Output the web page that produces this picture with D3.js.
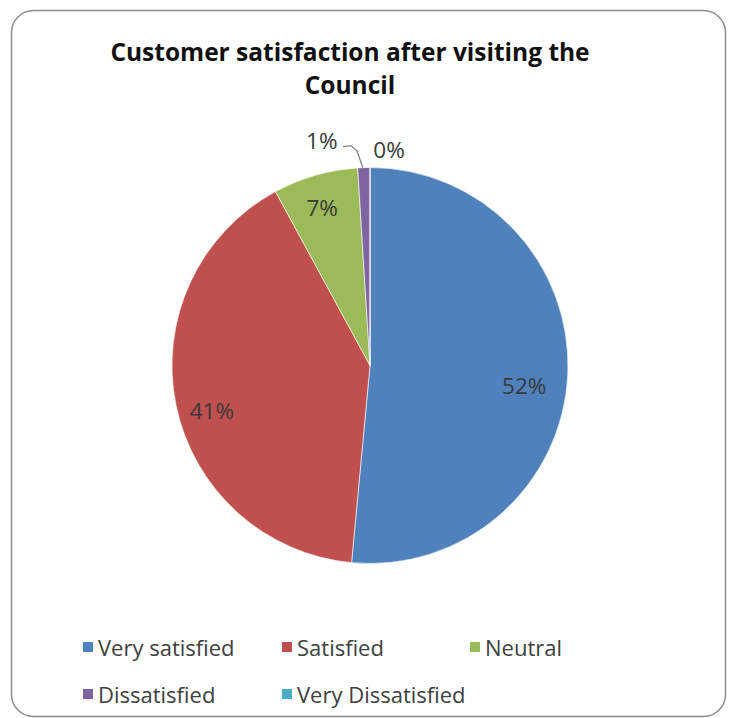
<!DOCTYPE html>
<html>
<head>
<meta charset="utf-8">
<script src="https://cdn.jsdelivr.net/npm/d3@7"></script>
<style>
  html, body { margin: 0; padding: 0; background: #fff; }
  svg { display: block; }
  text { font-family: "Open Sans", "Noto Sans", sans-serif; }
</style>
</head>
<body>
<svg id="chart" width="732" height="718"></svg>
<script>
// Survey results: share of customers (%) by satisfaction level
const categories = ["Very satisfied", "Satisfied", "Neutral", "Dissatisfied", "Very Dissatisfied"];
const shares = [52, 41, 7, 1, 0];
const colors = ["#4F81BD", "#C0504D", "#9BBB59", "#8064A2", "#4BACC6"];
const titleLines = ["Customer satisfaction after visiting the", "Council"];

// Layout
const cx = 370, cy = 365.5, R = 198;
// label placement: radius fraction (inside labels) and small nudges
const labelLayout = [
  { r: 0.79, dx: -2, dy: 13, inside: true },
  { r: 0.80, dx: -3, dy: 13, inside: true },
  { r: 0.80, dx: -4, dy: -6, inside: true },
  { outside: true, dx: -42, dy: -27 },
  { outside: true, dx: 19, dy: -18 }
];

const svg = d3.select("#chart");

// chart frame
svg.append("rect")
  .attr("x", 11.5).attr("y", 10.5)
  .attr("width", 714).attr("height", 706)
  .attr("rx", 22).attr("ry", 22)
  .attr("fill", "#fff")
  .attr("stroke", "#8c8c8c")
  .attr("stroke-width", 1.5);

// title
svg.append("text")
  .attr("x", 350).attr("y", 61)
  .attr("text-anchor", "middle")
  .attr("font-size", 24.5)
  .attr("font-weight", "bold")
  .attr("fill", "#111")
  .selectAll("tspan")
  .data(titleLines)
  .join("tspan")
  .attr("x", 350)
  .attr("dy", (d, i) => i === 0 ? 0 : 33)
  .text(d => d);

const pie = d3.pie().sort(null).value(d => d);
const arcs = pie(shares);
const arc = d3.arc().innerRadius(0).outerRadius(R);

const g = svg.append("g").attr("transform", `translate(${cx},${cy})`);

g.selectAll("path.slice")
  .data(arcs)
  .join("path")
  .attr("class", "slice")
  .attr("d", arc)
  .attr("fill", (d, i) => colors[i])
  .attr("stroke", "#fff")
  .attr("stroke-width", 1)
  .attr("stroke-opacity", 0.6);

// data labels
arcs.forEach((a, i) => {
  const L = labelLayout[i];
  const mid = (a.startAngle + a.endAngle) / 2;
  const txt = shares[i] + "%";
  if (L.inside) {
    const rr = R * L.r;
    const x = Math.sin(mid) * rr + L.dx;
    const y = -Math.cos(mid) * rr + L.dy;
    g.append("text")
      .attr("x", x).attr("y", y)
      .attr("text-anchor", "middle")
      .attr("dominant-baseline", "central")
      .attr("font-size", 22.5)
      .attr("fill", "#3a3a3a")
      .text(txt);
  } else {
    const ex = Math.sin(mid) * R, ey = -Math.cos(mid) * R;
    const lx = ex + L.dx, ly = ey + L.dy;
    g.append("text")
      .attr("x", lx).attr("y", ly)
      .attr("text-anchor", "middle")
      .attr("dominant-baseline", "central")
      .attr("font-size", 22.5)
      .attr("fill", "#3a3a3a")
      .text(txt);
    if (shares[i] > 0) {
      // leader line from label to slice edge
      const pts = [[lx + 21, ly + 6], [lx + 29, ly + 5], [lx + 35, ly + 10], [ex - 1, ey]];
      g.append("path")
        .attr("d", d3.line().curve(d3.curveLinear)(pts))
        .attr("fill", "none")
        .attr("stroke", "#7f7f7f")
        .attr("stroke-width", 1.3);
    }
  }
});

// legend
const legendCols = [83, 282, 470];
const legendRows = [647, 694];
const legend = svg.append("g");
categories.forEach((c, i) => {
  const col = i < 3 ? i : i - 3;
  const row = i < 3 ? 0 : 1;
  const x = legendCols[col], y = legendRows[row];
  legend.append("rect")
    .attr("x", x).attr("y", y - 5)
    .attr("width", 10).attr("height", 10)
    .attr("fill", colors[i]);
  legend.append("text")
    .attr("x", x + 15).attr("y", y)
    .attr("dominant-baseline", "central")
    .attr("font-size", 22)
    .attr("fill", "#404040")
    .text(c);
});
</script>
</body>
</html>
